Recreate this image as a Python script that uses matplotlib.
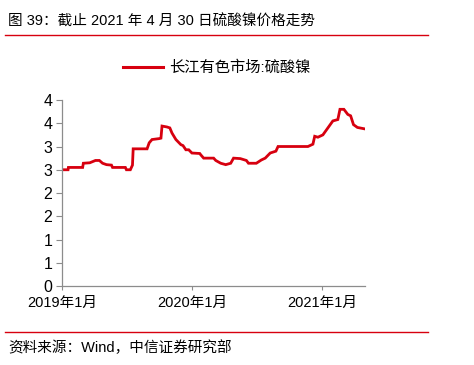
import matplotlib
matplotlib.use('Agg')
import matplotlib.pyplot as plt
import pandas as pd
from matplotlib.lines import Line2D

plt.rcParams['font.family'] = ['Liberation Sans', 'Noto Sans CJK SC', 'DejaVu Sans']
plt.rcParams['axes.unicode_minus'] = False

# 长江有色市场:硫酸镍
dates = ['2019-01-01', '2019-01-18', '2019-01-19', '2019-02-28', '2019-03-02', '2019-03-20',
         '2019-04-05', '2019-04-16', '2019-04-25', '2019-05-06', '2019-05-20', '2019-05-23',
         '2019-06-28', '2019-07-01', '2019-07-12', '2019-07-18', '2019-07-20', '2019-08-28',
         '2019-09-03', '2019-09-11', '2019-10-01', '2019-10-06', '2019-10-09', '2019-10-23',
         '2019-10-31', '2019-11-06', '2019-11-17', '2019-12-01', '2019-12-07', '2019-12-15',
         '2019-12-23', '2020-01-01', '2020-01-23', '2020-01-26', '2020-02-03', '2020-03-02',
         '2020-03-08', '2020-03-22', '2020-04-05', '2020-04-19', '2020-04-27', '2020-05-16',
         '2020-06-02', '2020-06-08', '2020-06-30', '2020-07-14', '2020-07-25', '2020-08-08',
         '2020-08-24', '2020-08-30', '2020-11-22', '2020-12-06', '2020-12-11', '2020-12-20',
         '2021-01-03', '2021-01-17', '2021-01-31', '2021-02-14', '2021-02-20', '2021-03-03',
         '2021-03-14', '2021-03-22', '2021-03-30', '2021-04-10', '2021-04-30']
values = [2.50, 2.50, 2.55, 2.55, 2.64, 2.65,
          2.70, 2.70, 2.64, 2.61, 2.60, 2.55,
          2.55, 2.50, 2.50, 2.60, 2.95, 2.95,
          3.08, 3.15, 3.17, 3.18, 3.44, 3.42,
          3.40, 3.29, 3.15, 3.04, 3.02, 2.93,
          2.93, 2.86, 2.85, 2.82, 2.75, 2.75,
          2.70, 2.64, 2.61, 2.64, 2.75, 2.74,
          2.70, 2.64, 2.64, 2.71, 2.75, 2.86,
          2.90, 3.00, 3.00, 3.05, 3.22, 3.20,
          3.25, 3.40, 3.55, 3.58, 3.80, 3.80,
          3.69, 3.66, 3.47, 3.41, 3.38]
x_ticks = ['2019-01-01', '2020-01-01', '2021-01-01']
x_labels = ['2019年1月', '2020年1月', '2021年1月']
y_ticks = [0, 0.5, 1, 1.5, 2, 2.5, 3, 3.5, 4]

red = '#d7000f'
gray = '#8c8c8c'

fig = plt.figure(figsize=(4.74, 3.65), dpi=100)
ax = fig.add_axes([0.1308, 0.2164, 0.639, 0.5096])

d = pd.to_datetime(dates)
ax.plot(d, values, color=red, lw=2.0, solid_joinstyle='miter')

ax.set_xlim(pd.Timestamp('2019-01-01'), pd.Timestamp('2021-05-01'))
ax.set_ylim(0, 4)
ax.set_xticks(pd.to_datetime(x_ticks))
ax.set_xticklabels(x_labels, fontsize=10.5)
ax.set_yticks(y_ticks)
ax.set_yticklabels([str(int(v + 0.5)) for v in y_ticks], fontsize=11.5)

for s in ['top', 'right']:
    ax.spines[s].set_visible(False)
for s in ['left', 'bottom']:
    ax.spines[s].set_color(gray)
    ax.spines[s].set_linewidth(0.9)
ax.tick_params(axis='y', direction='out', length=4, color=gray, pad=3)
ax.tick_params(axis='x', direction='out', length=3, color=gray, pad=4)

handle = Line2D([], [], color=red, lw=2.2)
fig.legend([handle], ['长江有色市场:硫酸镍'], loc='center', bbox_to_anchor=(0.458, 0.814),
           frameon=False, fontsize=11, handlelength=2.6, handletextpad=0.4)

fig.text(8 / 474, 1 - 22 / 365, '图 39：截止 2021 年 4 月 30 日硫酸镍价格走势', fontsize=10.5,
         va='center', ha='left')
fig.add_artist(Line2D([5 / 474, 428 / 474], [1 - 35 / 365] * 2, color=red, lw=1.0))
fig.add_artist(Line2D([5 / 474, 428 / 474], [1 - 332 / 365] * 2, color=red, lw=1.0))
fig.text(8 / 474, 1 - 348 / 365, '资料来源：Wind，中信证券研究部', fontsize=10.5,
         va='center', ha='left')

fig.savefig('out.png', dpi=100)
